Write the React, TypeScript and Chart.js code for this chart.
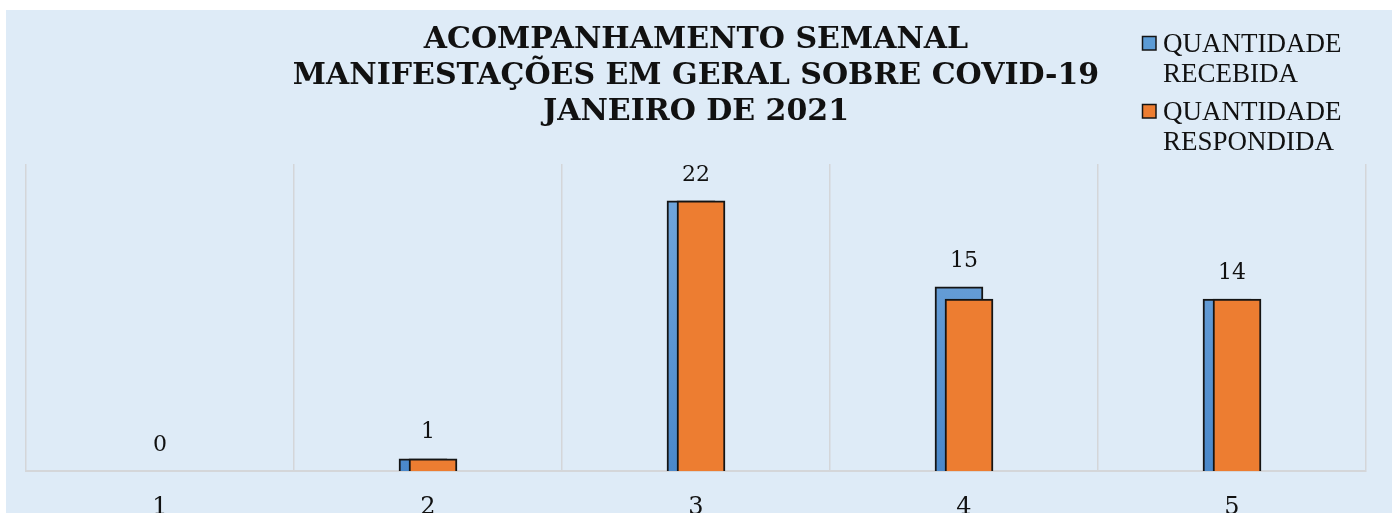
import React, { useEffect, useRef } from "react";
import { Chart, registerables } from "chart.js";

Chart.register(...registerables);

const categories = ["1", "2", "3", "4", "5"];
const receivedValues = [0, 1, 22, 15, 14];
const respondedValues = [0, 1, 22, 14, 14];
const seriesNames = ["QUANTIDADE RECEBIDA", "QUANTIDADE RESPONDIDA"];
const titleLines = [
  "ACOMPANHAMENTO SEMANAL",
  "MANIFESTAÇÕES EM GERAL SOBRE COVID-19",
  "JANEIRO DE 2021",
];
const yMax = 25;

const BG = "#DEEBF7";
const BLUE = "#5B9BD5";
const ORANGE = "#ED7D31";
const BORDER = "#141414";
const GRID = "#D4D6D9";
const SERIF_DIGITS = 'Georgia, "DejaVu Serif", serif';
const SHIFT = 0.0187;

const bgPlugin = {
  id: "bgPlugin",
  beforeDraw(chart: any) {
    const { ctx, width, height } = chart;
    ctx.save();
    ctx.fillStyle = "#ffffff";
    ctx.fillRect(0, 0, width, height);
    ctx.fillStyle = BG;
    ctx.fillRect(6, 10, width - 6, height - 10);
    ctx.restore();
  },
};

const labelPlugin = {
  id: "labelPlugin",
  afterDatasetsDraw(chart: any) {
    const { ctx } = chart;
    const xs = chart.scales.x;
    const ys = chart.scales.y;
    ctx.save();
    ctx.font = `22px ${SERIF_DIGITS}`;
    ctx.fillStyle = "#111";
    ctx.textAlign = "center";
    ctx.textBaseline = "middle";
    receivedValues.forEach((v, i) => {
      const top = Math.max(v, respondedValues[i]);
      ctx.fillText(String(v), xs.getPixelForValue(i), ys.getPixelForValue(top) - 26);
    });
    ctx.restore();
  },
};

const legendPlugin = {
  id: "legendPlugin",
  afterDraw(chart: any) {
    const { ctx } = chart;
    ctx.save();
    const colors = [BLUE, ORANGE];
    const itemTops = [36, 104];
    seriesNames.forEach((name, i) => {
      const y0 = itemTops[i];
      ctx.fillStyle = colors[i];
      ctx.fillRect(1142, y0, 14, 14);
      ctx.strokeStyle = BORDER;
      ctx.lineWidth = 1.5;
      ctx.strokeRect(1142.5, y0 + 0.5, 13.5, 13.5);
      ctx.fillStyle = "#111";
      ctx.font = '27px "Liberation Serif", "Times New Roman", serif';
      ctx.textAlign = "left";
      ctx.textBaseline = "alphabetic";
      const parts = name.split(" ");
      parts.forEach((p, k) => {
        ctx.fillText(p, 1163, y0 + 16 + k * 30);
      });
    });
    ctx.restore();
  },
};

export default function App() {
  const ref = useRef<HTMLCanvasElement | null>(null);

  useEffect(() => {
    if (!ref.current) return;
    const blueGradient = (c: any) => {
      const chart = c.chart;
      const area = chart.chartArea;
      if (!area) return BLUE;
      const g = chart.ctx.createLinearGradient(0, area.top, 0, area.bottom);
      g.addColorStop(0, "#75A9DD");
      g.addColorStop(1, "#4A88CA");
      return g;
    };
    const chart = new Chart(ref.current, {
      type: "bar",
      data: {
        labels: categories,
        datasets: [
          {
            label: seriesNames[0],
            data: receivedValues.map((v, i) => ({ x: i - SHIFT, y: v })),
            backgroundColor: blueGradient,
            borderColor: BORDER,
            borderWidth: 2,
            barThickness: 48,
            grouped: false,
            xAxisID: "xl",
            yAxisID: "y",
            order: 2,
          },
          {
            label: seriesNames[1],
            data: respondedValues.map((v, i) => ({ x: i + SHIFT, y: v })),
            backgroundColor: ORANGE,
            borderColor: BORDER,
            borderWidth: 2,
            barThickness: 48,
            grouped: false,
            xAxisID: "xl",
            yAxisID: "y",
            order: 1,
          },
        ],
      },
      options: {
        responsive: false,
        animation: false,
        layout: { padding: { left: 26, right: 26, top: 0, bottom: 0 } },
        plugins: {
          legend: { display: false },
          tooltip: { enabled: false },
          title: {
            display: true,
            text: titleLines,
            color: "#111",
            font: { family: 'Georgia, "DejaVu Serif", serif', size: 30, weight: "bold", lineHeight: 1.2 },
            padding: { top: 22, bottom: 34 },
          },
        },
        scales: {
          x: {
            type: "category",
            offset: true,
            grid: { offset: true, color: GRID, lineWidth: 1.5, drawTicks: false },
            border: { color: GRID, width: 2 },
            ticks: { color: "#111", font: { family: SERIF_DIGITS, size: 24 }, padding: 22 },
            afterFit: (scale: any) => {
              scale.height = 42;
            },
          },
          xl: {
            type: "linear",
            display: false,
            offset: false,
            grid: { offset: false },
            min: -0.5,
            max: 4.5,
          },
          y: {
            type: "linear",
            display: false,
            min: 0,
            max: yMax,
          },
        },
      },
      plugins: [bgPlugin, labelPlugin, legendPlugin],
    } as any);
    return () => chart.destroy();
  }, []);

  return (
    <div style={{ position: "absolute", left: 0, top: 0, width: 1392, height: 513 }}>
      <canvas ref={ref} width={1392} height={513} style={{ display: "block" }} />
    </div>
  );
}
